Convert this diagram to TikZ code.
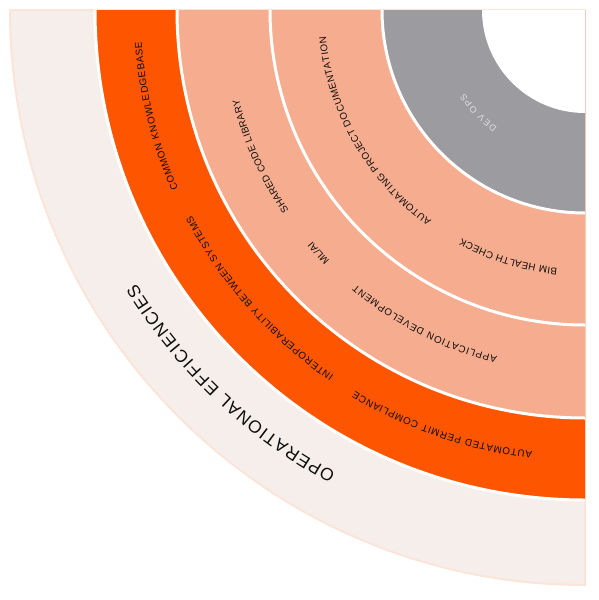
\documentclass[tikz,border=0pt]{standalone}
\usepackage{fontspec}
\setmainfont{Liberation Sans}
\usetikzlibrary{decorations.text}
\definecolor{opgrey}{HTML}{9C9BA0}
\definecolor{salmon}{HTML}{F6AC8E}
\definecolor{hotorange}{HTML}{FD5500}
\definecolor{paleband}{HTML}{F6EEEA}
\definecolor{paleedge}{HTML}{FBE4D8}
\definecolor{inktext}{HTML}{0E0E0E}
\begin{document}
\begin{tikzpicture}[x=1pt, y=1pt,
          band/.style={fill=#1},
          sep/.style={draw=white, line width=3pt},
          lbl/.style={decorate, decoration={text along path, text align=fit to path, text color=inktext,
            text={|\fontsize{9.8}{12}\selectfont|#1}}},
          shortlbl/.style={decorate, decoration={text along path, text align=center, text color=inktext,
            text={|\fontsize{9.8}{12}\selectfont|#1}}},
          biglbl/.style={decorate, decoration={text along path, text align=fit to path, text color=inktext,
            text={|\fontsize{17.5}{20}\selectfont|#1}}},
          devlbl/.style={decorate, decoration={text along path, text align=fit to path, text color=white!88!black,
            text={|\fontsize{9}{10}\selectfont|#1}}}]
        \useasboundingbox (0,0) rectangle (598,-600);
        \coordinate (c) at (585,-10);
        % quarter bands, outside in
        \filldraw[band=paleband, draw=paleedge, line width=2pt] (c) -- ++(180:575) arc[start angle=180, end angle=270, radius=575] -- cycle;
        \fill[band=hotorange] (c) -- ++(180:490) arc[start angle=180, end angle=270, radius=490] -- cycle;
        \fill[band=salmon] (c) -- ++(180:408) arc[start angle=180, end angle=270, radius=408] -- cycle;
        \fill[band=opgrey] (c) -- ++(180:203) arc[start angle=180, end angle=270, radius=203] -- cycle;
        \fill[white] (c) -- ++(180:103) arc[start angle=180, end angle=270, radius=103] -- cycle;
        % white gaps
        \draw[sep] (c) ++(180:490) arc[start angle=180, end angle=270, radius=490];
        \draw[sep] (c) ++(180:408) arc[start angle=180, end angle=270, radius=408];
        \draw[sep] (c) ++(180:315) arc[start angle=180, end angle=270, radius=315];
        \draw[sep] (c) ++(180:203) arc[start angle=180, end angle=270, radius=203];
        % labels, first letter to last letter
        \path[devlbl={DEV OPS}] (c) ++(233.1:146.5) arc[start angle=233.1, end angle=214.7, radius=146.5];
        \path[lbl={AUTOMATING PROJECT DOCUMENTATION}] (c) ++(233.9:260.5) arc[start angle=233.9, end angle=185.9, radius=260.5];
        \path[lbl={BIM HEALTH CHECK}] (c) ++(263.9:259.5) arc[start angle=263.9, end angle=241.6, radius=259.5];
        \path[lbl={SHARED CODE LIBRARY}] (c) ++(214.1:357.5) arc[start angle=214.1, end angle=194.5, radius=357.5];
        \path[shortlbl={ML/AI}] (c) ++(242.35:357.5) arc[start angle=242.35, end angle=202.35, radius=357.5];
        \path[lbl={APPLICATION DEVELOPMENT}] (c) ++(255.8:357.5) arc[start angle=255.8, end angle=230.2, radius=357.5];
        \path[lbl={INTEROPERABILITY BETWEEN SYSTEMS}] (c) ++(235.5:443.5) arc[start angle=235.5, end angle=207.6, radius=443.5];
        \path[lbl={COMMON KNOWLEDGEBASE}] (c) ++(203.7:444.5) arc[start angle=203.7, end angle=184.1, radius=444.5];
        \path[lbl={AUTOMATED PERMIT COMPLIANCE}] (c) ++(263.2:445) arc[start angle=263.2, end angle=238.9, radius=445];
        \path[biglbl={OPERATIONAL EFFICIENCIES}] (c) ++(241.7:525.7) arc[start angle=241.7, end angle=211.4, radius=525.7];
      \end{tikzpicture}
\end{document}
